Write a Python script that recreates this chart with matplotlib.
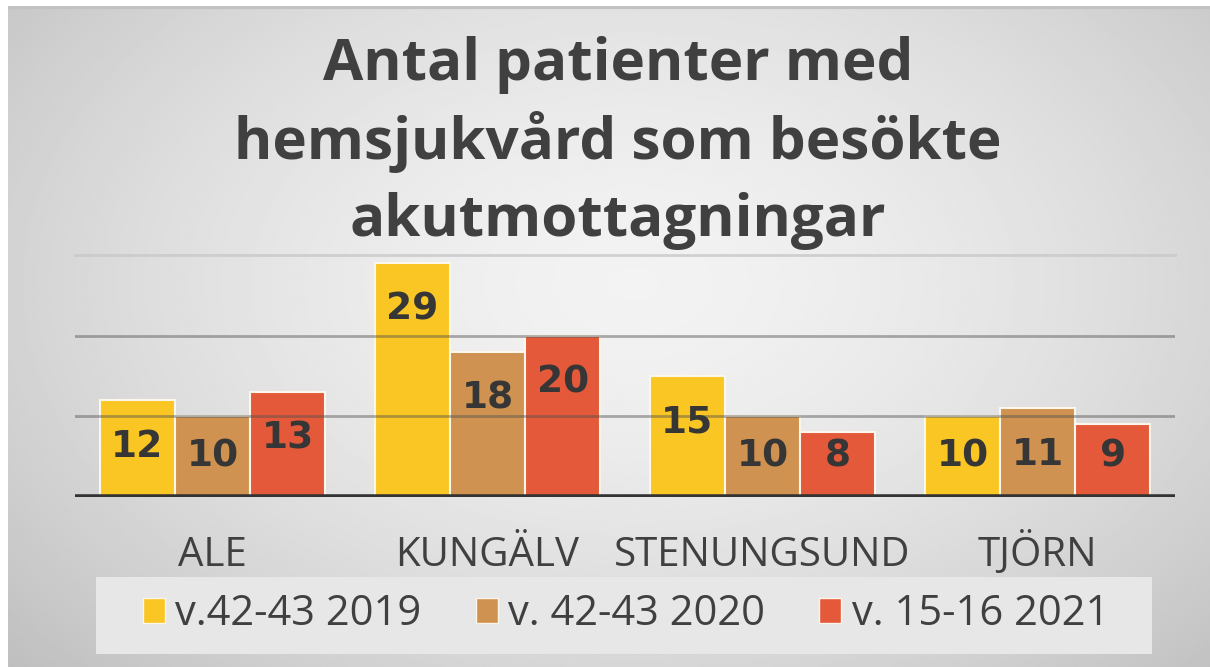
import numpy as np
import matplotlib.pyplot as plt
from matplotlib.patches import Patch, Rectangle

# Data
kommuner = ["ALE", "KUNGÄLV", "STENUNGSUND", "TJÖRN"]
serier = ["v.42-43 2019", "v. 42-43 2020", "v. 15-16 2021"]
v2019 = [12, 29, 15, 10]
v2020 = [10, 18, 10, 11]
v2021 = [13, 20, 8, 9]
farger = ["#F9C623", "#CF9250", "#E4593A"]
titel = ["Antal patienter med", "hemsjukvård som besökte", "akutmottagningar"]

TEXT = "#404040"


def main():
    fig = plt.figure(figsize=(12.1, 6.67), dpi=100)
    fig.patch.set_facecolor("white")

    # Bakgrund med radiell gradient
    bg = fig.add_axes([8 / 1210, 0, 1 - 8 / 1210, 1 - 6 / 667])
    bg.set_axis_off()
    yy, xx = np.mgrid[0:1:300j, 0:1:600j]
    r = np.sqrt(((xx - 0.52) / 0.75) ** 2 + ((yy - 0.42) / 0.9) ** 2)
    grad = 0.95 - 0.22 * np.clip(r, 0, 1.2) ** 1.6
    bg.imshow(grad, cmap="gray", vmin=0, vmax=1, aspect="auto",
              extent=[0, 1, 1, 0], interpolation="bilinear")
    bg.set_xlim(0, 1)
    bg.set_ylim(1, 0)
    bg.axhline(0.002, color="#c2c2c2", lw=3)

    # Legendruta
    fig.patches.append(Rectangle((96 / 1210, 13 / 667), 1056 / 1210, 77 / 667,
                                 transform=fig.transFigure, facecolor="#e7e7e7",
                                 edgecolor="none", zorder=1))

    ax = fig.add_axes([75 / 1210, 170 / 667, 1100 / 1210, 242 / 667])
    ax.set_facecolor("none")

    x = np.arange(len(kommuner))
    w = 0.27
    data = [v2019, v2020, v2021]
    for i, (vals, c) in enumerate(zip(data, farger)):
        pos = x + (i - 1) * 0.273
        ax.bar(pos, vals, width=w, color=c, edgecolor="#fdf6ea", linewidth=1.5, zorder=2)
        for xp, v in zip(pos, vals):
            ax.text(xp, max(v - 5.8, 5), str(v), ha="center", va="center",
                    fontsize=27, fontweight="bold", color="#363636",
                    family="DejaVu Sans", zorder=5)

    # Rutnät ovanpå staplarna
    for g in [10, 20]:
        ax.axhline(g, color="#505050", alpha=0.45, lw=2, zorder=3)
    ax.axhline(30, color="#c8c8c8", alpha=0.8, lw=2, zorder=3, clip_on=False)
    ax.axhline(0, color="#333333", lw=4, zorder=4)

    ax.set_xlim(-0.5, 3.5)
    ax.set_ylim(0, 30)
    ax.set_yticks([])
    ax.set_xticks(x)
    ax.set_xticklabels(kommuner, fontsize=29, color=TEXT, family="Open Sans")
    for lab in ax.get_xticklabels():
        lab.set_va("baseline")
    ax.tick_params(axis="x", length=0, pad=50)
    for s in ax.spines.values():
        s.set_visible(False)

    # Titel
    for rad, yb in zip(titel, [80, 159, 236]):
        fig.text(618 / 1210, 1 - yb / 667, rad, ha="center", va="baseline",
                 fontsize=42, fontweight="bold", color=TEXT, family="Open Sans")

    handles = [Patch(facecolor=c, edgecolor="#fdf6ea", linewidth=1) for c in farger]
    fig.legend(handles, serier, loc="center", bbox_to_anchor=(626 / 1210, 1 - 614 / 667),
               ncol=3, frameon=False, prop={"family": "Open Sans", "size": 30},
               labelcolor=TEXT, handlelength=0.53, handleheight=0.53,
               handletextpad=0.25, columnspacing=1.3)

    fig.savefig("out.png", dpi=100)


if __name__ == "__main__":
    main()
